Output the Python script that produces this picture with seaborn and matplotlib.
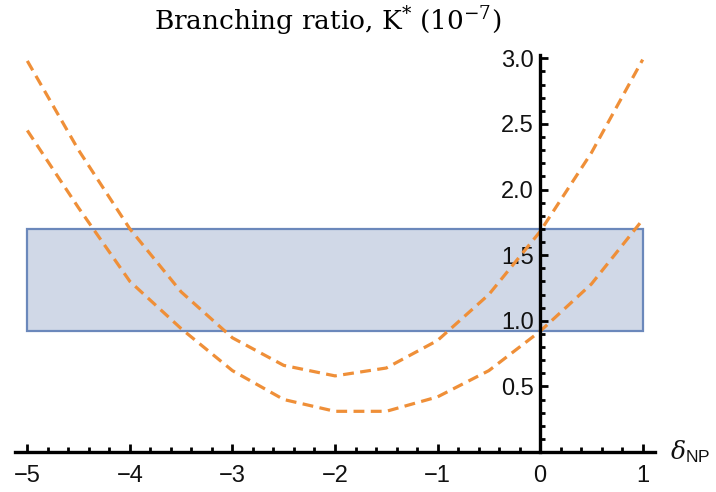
import numpy as np
import pandas as pd
import matplotlib
matplotlib.use("Agg")
import matplotlib.pyplot as plt
from matplotlib.patches import Rectangle
from matplotlib.ticker import MultipleLocator
import seaborn as sns

# ----------------------- data -----------------------
delta_np = [-5.0, -4.5, -4.0, -3.5, -3.0, -2.5, -2.0, -1.5, -1.0, -0.5, 0.0, 0.5, 1.0]
br_upper = [2.98, 2.30, 1.70, 1.22, 0.87, 0.66, 0.58, 0.64, 0.85, 1.20, 1.68, 2.28, 2.99]
br_lower = [2.45, 1.86, 1.30, 0.94, 0.62, 0.40, 0.31, 0.31, 0.42, 0.62, 0.92, 1.28, 1.77]
band_x = [-5.0, 1.0]
band_y = [0.92, 1.70]
x_ticks = [-5, -4, -3, -2, -1, 0, 1]
y_ticks = [0.5, 1.0, 1.5, 2.0, 2.5, 3.0]
# ---------------------------------------------------------------------------

ORANGE = "#ef8f38"
BAND_FILL = "#d0d8e7"
BAND_EDGE = "#6b88bb"

sns.set_theme(style="white")
plt.rcParams["font.family"] = ["Liberation Sans", "DejaVu Sans"]
plt.rcParams["mathtext.fontset"] = "custom"
plt.rcParams["mathtext.rm"] = "DejaVu Serif"
plt.rcParams["mathtext.it"] = "DejaVu Serif:italic"
plt.rcParams["mathtext.sf"] = "Liberation Sans"


def main():
    df = pd.DataFrame({
        "delta": delta_np * 2,
        "br": br_upper + br_lower,
        "curve": ["upper"] * len(delta_np) + ["lower"] * len(delta_np),
    })

    fig = plt.figure(figsize=(7.16, 4.92), dpi=100)
    ax = fig.add_axes([15 / 716, 40 / 492, 640 / 716, 397 / 492])
    ax.set_axisbelow(False)

    # measured band
    ax.add_patch(Rectangle((band_x[0], band_y[0]), band_x[1] - band_x[0], band_y[1] - band_y[0],
                           facecolor=BAND_FILL, edgecolor=BAND_EDGE, linewidth=1.6, zorder=1))

    sns.lineplot(data=df, x="delta", y="br", units="curve", estimator=None, color=ORANGE,
                 linewidth=2.3, ax=ax, zorder=3)
    for line in ax.get_lines():
        line.set_linestyle((0, (3.4, 2.0)))

    ax.set_xlim(-5.12, 1.12)
    ax.set_ylim(0, 3.025)
    ax.spines["left"].set_position(("data", 0))
    ax.spines["bottom"].set_position(("data", 0))
    ax.spines["top"].set_visible(False)
    ax.spines["right"].set_visible(False)
    for s in ("left", "bottom"):
        ax.spines[s].set_linewidth(2.4)
        ax.spines[s].set_color("black")
        ax.spines[s].set_zorder(4)

    ax.set_xticks(x_ticks)
    ax.set_xticklabels(["\u22125", "\u22124", "\u22123", "\u22122", "\u22121", "0", "1"])
    ax.set_yticks(y_ticks)
    ax.set_yticklabels([f"{v:.1f}" for v in y_ticks])
    ax.xaxis.set_minor_locator(MultipleLocator(0.2))
    ax.yaxis.set_minor_locator(MultipleLocator(0.1))
    ax.tick_params(which="both", direction="in", color="black", width=2.0,
                   bottom=True, left=True, labelsize=17, labelcolor="#111111")
    ax.tick_params(which="major", length=6)
    ax.tick_params(which="minor", length=3.5)
    ax.tick_params(axis="x", which="major", pad=9)
    ax.tick_params(axis="y", which="major", pad=4.5)
    ax.set_xlabel("")
    ax.set_ylabel("")

    ax.text(1.27, 0.0, r"$\delta_{\mathsf{NP}}$", fontsize=18, ha="left", va="center",
            color="#111111", clip_on=False)
    fig.text(328 / 716, 1 - 21 / 492, r"Branching ratio, K$^{*}$ (10$^{-7}$)",
             fontsize=19, family="DejaVu Serif", color="black", ha="center", va="center")

    fig.savefig("out.png", dpi=100)
    plt.close(fig)


if __name__ == "__main__":
    main()
